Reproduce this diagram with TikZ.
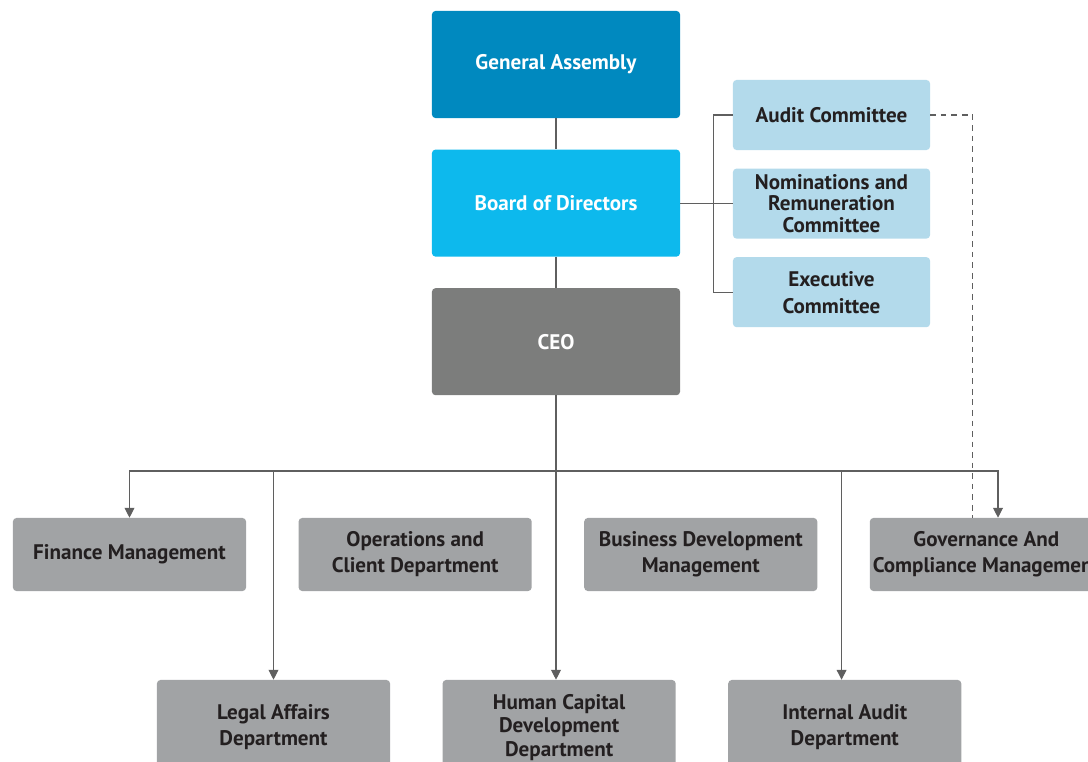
\documentclass[tikz,border=0pt]{standalone}
\usepackage{fontspec}
\setmainfont{PT Sans}
\usetikzlibrary{positioning,arrows.meta}
\definecolor{gacol}{HTML}{0089BF}
\definecolor{bodcol}{HTML}{0DB9ED}
\definecolor{ceocol}{HTML}{7C7D7C}
\definecolor{comcol}{HTML}{B3DAEB}
\definecolor{deptcol}{HTML}{A1A3A5}
\definecolor{txtcol}{HTML}{231F20}
\definecolor{linecol}{HTML}{5F5F5F}
\begin{document}
\begin{tikzpicture}[x=0.025cm,y=-0.025cm,
    orgbox/.style={rounded corners=2.5pt, align=center, inner sep=0pt,
      font=\bfseries\fontsize{15}{18.5}\selectfont},
    headbox/.style={orgbox, fill=#1, text=white, minimum width=6.2cm, minimum height=2.675cm},
    combox/.style={orgbox, fill=comcol, text=txtcol, minimum width=4.925cm, minimum height=1.75cm},
    deptbox/.style={orgbox, fill=deptcol, text=txtcol, minimum width=5.825cm, minimum height=1.825cm},
    lowbox/.style={deptbox, minimum height=2.375cm},
    link/.style={draw=linecol, line width=0.75pt},
    arr/.style={link, -{Triangle[width=7pt,length=7pt]}},
    dashlink/.style={link, dash pattern=on 4pt off 3.5pt}]
  \useasboundingbox (0,0) rectangle (1088,762);
  \clip (0,0) rectangle (1088,762);
  % central column
  \node[headbox=gacol] (ga) at (556,64.5) {General Assembly};
  \node[headbox=bodcol] (bod) [below=0.775cm of ga] {Board of Directors};
  \node[headbox=ceocol] (ceo) [below=0.775cm of bod] {CEO};
  % committees
  \node[combox] (audit) at (831.5,115) {Audit Committee};
  \node[combox] (nom) [below=0.45cm of audit] {Nominations and\\[-3.2pt]Remuneration\\[-3.2pt]Committee};
  \node[combox] (exe) [below=0.45cm of nom] {Executive\\[0.7pt]Committee};
  % departments
  \node[deptbox] (fin) at (129.5,554.5) {Finance Management};
  \node[deptbox] (ops) [right=1.3cm of fin] {Operations and\\Client Department};
  \node[deptbox] (bus) [right=1.3cm of ops] {Business Development\\Management};
  \node[deptbox] (gov) [right=1.3cm of bus] {Governance And\\Compliance Management};
  \node[lowbox] (legal) at (273.5,727.5) {Legal Affairs\\Department};
  \node[lowbox] (hum) [right=1.3cm of legal] {Human Capital\\[-1.5pt]Development\\[-1.5pt]Department};
  \node[lowbox] (int) [right=1.3cm of hum] {Internal Audit\\Department};
  % connectors
  \coordinate (cbus) at ([xshift=0.825cm]bod.east);
  \coordinate (dbus) at (556,471);
  \path[link] (ga) edge (bod)
              (bod) edge (ceo)
              (bod.east) edge (cbus)
              (cbus) edge (cbus -| nom.west)
              (ceo) edge (dbus);
  \draw[link] (audit.west) -| (cbus) |- (exe.west);
  \draw[arr] (dbus) -| (fin.north);
  \draw[arr] (dbus) -| ([xshift=0.29cm]gov.north);
  \draw[arr] (legal.north |- dbus) -- (legal.north);
  \draw[arr] (dbus) -- (dbus |- hum.north);
  \draw[arr] ([xshift=-0.08cm]int.north |- dbus) -- ([xshift=-0.08cm]int.north);
  \draw[dashlink] (audit.east) -| ([xshift=-0.34cm]gov.north);
\end{tikzpicture}
\end{document}
